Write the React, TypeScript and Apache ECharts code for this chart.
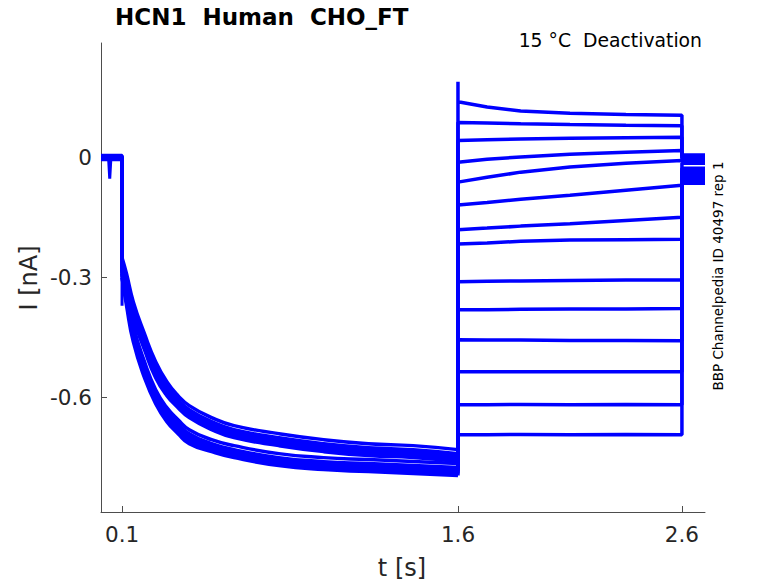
import React, { useEffect, useRef } from "react";
import * as echarts from "echarts";

// Axis ranges and ticks
const X_MIN = 0.006;
const X_MAX = 2.703;
const Y_MIN = -0.886;
const Y_MAX = 0.287;
const X_TICKS = [0.1, 1.6, 2.6];
const Y_TICKS = [-0.6, -0.3, 0];

// Holding segment (before step)
const HOLD_T = [0.006, 0.1];
const HOLD = [0.006, 0.002, -0.002, 0.0, 0.004, -0.004, 0.001, -0.001, 0.003, -0.005, 0.0, 0.005, -0.003, 0.001];
const DIP_T = [0.04, 0.045, 0.05];
const DIP_V = [0.0, -0.05, 0.0];
const STEP_SPIKE = -0.37;

// Activation phase (0.1 s – 1.6 s)
const ACT_T = [0.1, 0.12, 0.15, 0.2, 0.25, 0.3, 0.35, 0.4, 0.5, 0.6, 0.8, 1.0, 1.2, 1.4, 1.6];
const ACT_1 = [-0.25, -0.29, -0.36, -0.44, -0.51, -0.56, -0.595, -0.62, -0.65, -0.67, -0.69, -0.705, -0.715, -0.72, -0.73];
const ACT_2 = [-0.26, -0.3, -0.37, -0.45, -0.52, -0.57, -0.605, -0.63, -0.66, -0.68, -0.7, -0.715, -0.725, -0.73, -0.74];
const ACT_3 = [-0.26, -0.31, -0.38, -0.46, -0.53, -0.58, -0.61, -0.635, -0.665, -0.685, -0.705, -0.72, -0.73, -0.735, -0.745];
const ACT_4 = [-0.27, -0.31, -0.385, -0.47, -0.535, -0.585, -0.615, -0.64, -0.67, -0.69, -0.71, -0.725, -0.735, -0.74, -0.75];
const ACT_5 = [-0.26, -0.3, -0.375, -0.455, -0.525, -0.575, -0.61, -0.635, -0.665, -0.685, -0.705, -0.72, -0.73, -0.74, -0.745];
const ACT_6 = [-0.27, -0.32, -0.39, -0.475, -0.54, -0.59, -0.62, -0.645, -0.675, -0.695, -0.715, -0.73, -0.74, -0.745, -0.755];
const ACT_7 = [-0.28, -0.32, -0.4, -0.48, -0.55, -0.595, -0.625, -0.65, -0.68, -0.7, -0.72, -0.735, -0.745, -0.75, -0.76];
const ACT_8 = [-0.27, -0.33, -0.42, -0.51, -0.58, -0.625, -0.655, -0.68, -0.705, -0.72, -0.74, -0.75, -0.755, -0.76, -0.765];
const ACT_9 = [-0.28, -0.34, -0.43, -0.52, -0.59, -0.635, -0.665, -0.69, -0.715, -0.73, -0.75, -0.76, -0.765, -0.77, -0.775];
const ACT_10 = [-0.28, -0.345, -0.44, -0.53, -0.6, -0.645, -0.675, -0.7, -0.72, -0.735, -0.755, -0.765, -0.77, -0.775, -0.78];
const ACT_11 = [-0.29, -0.35, -0.445, -0.535, -0.605, -0.65, -0.68, -0.705, -0.725, -0.74, -0.76, -0.77, -0.775, -0.78, -0.785];
const ACT_12 = [-0.3, -0.36, -0.45, -0.54, -0.61, -0.655, -0.685, -0.71, -0.73, -0.745, -0.765, -0.775, -0.78, -0.785, -0.79];
const ACT_13 = [-0.29, -0.35, -0.44, -0.525, -0.595, -0.64, -0.67, -0.695, -0.72, -0.735, -0.755, -0.765, -0.77, -0.775, -0.78];
const ACT_14 = [-0.3, -0.37, -0.46, -0.55, -0.615, -0.66, -0.69, -0.715, -0.735, -0.75, -0.77, -0.78, -0.785, -0.79, -0.795];

// Deactivation tails (1.6 s – 2.6 s)
const TAIL_T = [1.6, 1.73, 1.88, 2.1, 2.35, 2.6];
const TAIL_1 = [0.14, 0.127, 0.117, 0.111, 0.108, 0.106];
const TAIL_2 = [0.088, 0.087, 0.085, 0.083, 0.081, 0.08];
const TAIL_3 = [0.043, 0.045, 0.047, 0.049, 0.05, 0.051];
const TAIL_4 = [-0.011, -0.004, 0.002, 0.009, 0.014, 0.018];
const TAIL_5 = [-0.061, -0.049, -0.036, -0.023, -0.014, -0.007];
const TAIL_6 = [-0.118, -0.112, -0.104, -0.094, -0.081, -0.069];
const TAIL_7 = [-0.18, -0.176, -0.171, -0.165, -0.157, -0.149];
const TAIL_8 = [-0.216, -0.213, -0.209, -0.206, -0.205, -0.204];
const TAIL_9 = [-0.31, -0.309, -0.308, -0.307, -0.306, -0.306];
const TAIL_10 = [-0.38, -0.38, -0.379, -0.378, -0.378, -0.377];
const TAIL_11 = [-0.455, -0.456, -0.456, -0.457, -0.457, -0.458];
const TAIL_12 = [-0.535, -0.535, -0.535, -0.535, -0.535, -0.535];
const TAIL_13 = [-0.618, -0.618, -0.617, -0.618, -0.617, -0.618];
const TAIL_14 = [-0.693, -0.693, -0.692, -0.693, -0.692, -0.693];
const TAIL_SPIKE = 0.19;

// After the test pulse (2.6 s – end)
const POST_T = [2.6, 2.703];
const POST = [0.007, 0.004, 0.0, -0.004, -0.008, -0.014, -0.026, -0.032, -0.037, -0.042, -0.048, -0.053, -0.058, -0.064];

const ACTS = [ACT_1, ACT_2, ACT_3, ACT_4, ACT_5, ACT_6, ACT_7, ACT_8, ACT_9, ACT_10, ACT_11, ACT_12, ACT_13, ACT_14];
const TAILS = [TAIL_1, TAIL_2, TAIL_3, TAIL_4, TAIL_5, TAIL_6, TAIL_7, TAIL_8, TAIL_9, TAIL_10, TAIL_11, TAIL_12, TAIL_13, TAIL_14];

const BLUE = "#0000ff";
const FONT = "DejaVu Sans";
const INK = "#262626";

export default function App() {
  const ref = useRef<HTMLDivElement>(null);
  useEffect(() => {
    document.body.style.margin = "0";
    const chart = echarts.init(ref.current!, null, { renderer: "svg" });
    const series: any[] = [];
    const lw = 3.5;
    TAILS.forEach((tail, i) => {
      const act = ACTS[i];
      // holding + step
      const hold: number[][] = [];
      hold.push([HOLD_T[0], HOLD[i]]);
      if (i === 2) DIP_T.forEach((t, k) => hold.push([t, HOLD[i] + DIP_V[k]]));
      hold.push([HOLD_T[1], HOLD[i]]);
      if (i === 0) hold.push([HOLD_T[1], STEP_SPIKE]);
      hold.push([ACT_T[0], act[0]]);
      series.push({ type: "line", data: hold, showSymbol: false, lineStyle: { color: BLUE, width: 3 }, silent: true });
      // activation
      series.push({
        type: "line",
        data: ACT_T.map((t, k) => [t, act[k]]),
        smooth: 0.5,
        showSymbol: false,
        lineStyle: { color: BLUE, width: lw },
        silent: true,
      });
      // tail
      const td: number[][] = [];
      td.push([TAIL_T[0], act[act.length - 1]]);
      if (i === 0) td.push([TAIL_T[0], TAIL_SPIKE]);
      TAIL_T.forEach((t, k) => td.push([t, tail[k]]));
      td.push([POST_T[0], POST[i]]);
      td.push([POST_T[1], POST[i]]);
      series.push({ type: "line", data: td, showSymbol: false, lineStyle: { color: BLUE, width: lw }, silent: true });
    });

    chart.setOption({
      animation: false,
      grid: { left: 101, top: 43, right: 73, bottom: 71 },
      xAxis: {
        type: "value",
        min: X_MIN,
        max: X_MAX,
        axisLine: { show: true, onZero: false, lineStyle: { color: "#4d4d4d", width: 1 } },
        axisTick: { show: true, inside: true, length: 6, customValues: X_TICKS, lineStyle: { color: "#4d4d4d" } },
        axisLabel: {
          customValues: X_TICKS,
          formatter: (v: number) => String(v),
          color: INK,
          fontFamily: FONT,
          fontSize: 21.5,
          margin: 11,
        },
        splitLine: { show: false },
      },
      yAxis: {
        type: "value",
        min: Y_MIN,
        max: Y_MAX,
        axisLine: { show: true, onZero: false, lineStyle: { color: "#4d4d4d", width: 1 } },
        axisTick: { show: true, inside: true, length: 6, customValues: Y_TICKS, lineStyle: { color: "#4d4d4d" } },
        axisLabel: {
          customValues: Y_TICKS,
          formatter: (v: number) => String(v),
          color: INK,
          fontFamily: FONT,
          fontSize: 21.5,
          margin: 9,
        },
        splitLine: { show: false },
      },
      series,
      graphic: [
        {
          type: "text",
          left: 115,
          top: 5,
          style: { text: "HCN1  Human  CHO_FT", font: `bold 23px '${FONT}'`, fill: "#000" },
        },
        {
          type: "text",
          x: 702,
          y: 40,
          style: { text: "15 °C  Deactivation", font: `18.8px '${FONT}'`, fill: "#000", align: "right", verticalAlign: "middle" },
        },
        {
          type: "text",
          x: 402,
          y: 568,
          style: { text: "t [s]", font: `24px '${FONT}'`, fill: INK, align: "center", verticalAlign: "middle" },
        },
        {
          type: "text",
          x: 29,
          y: 278,
          rotation: Math.PI / 2,
          style: { text: "I [nA]", font: `24px '${FONT}'`, fill: INK, align: "center", verticalAlign: "middle" },
        },
        {
          type: "text",
          x: 718,
          y: 276,
          rotation: Math.PI / 2,
          style: { text: "BBP Channelpedia ID 40497 rep 1", font: `13.5px '${FONT}'`, fill: "#000", align: "center", verticalAlign: "middle" },
        },
      ],
    });
    return () => chart.dispose();
  }, []);
  return <div ref={ref} style={{ width: 778, height: 583 }} />;
}
